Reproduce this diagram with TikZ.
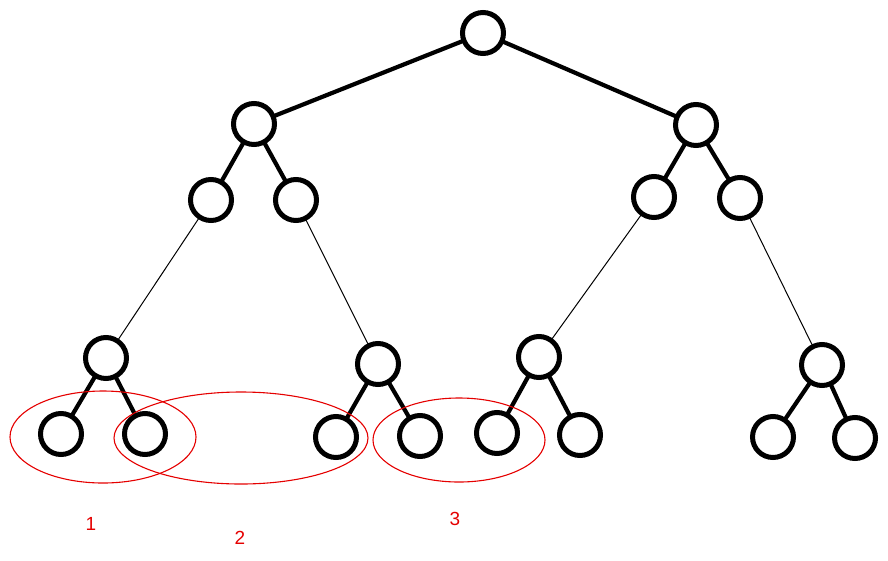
\documentclass[tikz,border=0pt]{standalone}
\usepackage{fontspec}
\setmainfont{Liberation Sans}
\begin{document}
\begin{tikzpicture}[x=1pt,y=-1pt,
  tn/.style={circle,draw=black,line width=5pt,minimum size=41pt,inner sep=0pt,fill=white},
  thick edge/.style={line width=4.2pt,line cap=round},
  thin edge/.style={line width=1pt},
  grp/.style={draw=red!90!black,line width=1.1pt},
  lbl/.style={text=red!90!black,font=\fontsize{19}{19}\selectfont}]
\useasboundingbox (0,0) rectangle (888,560);
\coordinate (root) at (483,33);
\coordinate (l1) at (254,124);
\coordinate (r1) at (696,125);
\coordinate (a) at (211,200);
\coordinate (b) at (296,200);
\coordinate (c) at (654,197);
\coordinate (d) at (740,198);
\coordinate (l3a) at (106,358);
\coordinate (l3b) at (378,364);
\coordinate (r3a) at (539,357);
\coordinate (r3b) at (822,365);
\coordinate (x1) at (61,434);
\coordinate (x2) at (145,434);
\coordinate (x3) at (336,437);
\coordinate (x4) at (420,436);
\coordinate (x5) at (497,433);
\coordinate (x6) at (580,435);
\coordinate (x7) at (773,437);
\coordinate (x8) at (855,438);
\draw[thick edge] (root)--(l1) (root)--(r1) (l1)--(a) (l1)--(b) (r1)--(c) (r1)--(d)
  (l3a)--(x1) (l3a)--(x2) (l3b)--(x3) (l3b)--(x4) (r3a)--(x5) (r3a)--(x6) (r3b)--(x7) (r3b)--(x8);
\draw[thin edge] (a)--(l3a) (b)--(l3b) (c)--(r3a) (d)--(r3b);
\foreach \n in {root,l1,r1,a,b,c,d,l3a,l3b,r3a,r3b,x1,x2,x3,x4,x5,x6,x7,x8}
  \node[tn] (n\n) at (\n) {};
\draw[grp] (103,437) ellipse [x radius=93, y radius=46];
\draw[grp] (241,438) ellipse [x radius=127, y radius=46];
\draw[grp] (459,440) ellipse [x radius=86, y radius=42];
\node[lbl] (g1) at (91,524) {1};
\node[lbl] (g2) at (240,538) {2};
\node[lbl] (g3) at (455,519) {3};
\end{tikzpicture}
\end{document}
